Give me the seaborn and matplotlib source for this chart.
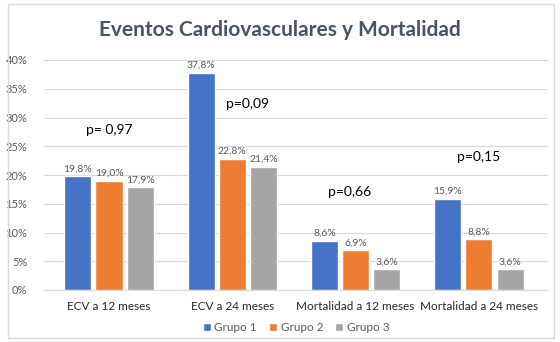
import matplotlib
matplotlib.use("Agg")
import matplotlib.pyplot as plt
import pandas as pd
import seaborn as sns
from matplotlib.patches import Rectangle

categories = ["ECV a 12 meses", "ECV a 24 meses",
              "Mortalidad a 12 meses", "Mortalidad a 24 meses"]
grupos = ["Grupo 1", "Grupo 2", "Grupo 3"]
grupo1 = [19.8, 37.8, 8.6, 15.9]
grupo2 = [19.0, 22.8, 6.9, 8.8]
grupo3 = [17.9, 21.4, 3.6, 3.6]
p_labels = ["p= 0,97", "p=0,09", "p=0,66", "p=0,15"]
p_pos = [(0.0, 27.8), (1.12, 32.3), (1.95, 17.0), (3.0, 23.1)]

df = pd.DataFrame({
    "cat": categories * 3,
    "grupo": [g for g in grupos for _ in categories],
    "val": grupo1 + grupo2 + grupo3,
})

sns.set_style("white")
plt.rcParams["font.family"] = ["Lato", "DejaVu Sans"]

colors = ["#4472C4", "#ED7D31", "#A5A5A5"]

fig = plt.figure(figsize=(5.6, 3.42), dpi=100)
fig.patches.append(Rectangle((8 / 560, 4 / 342), 546 / 560, 334 / 342,
                             transform=fig.transFigure, fill=False,
                             edgecolor="#D9D9D9", linewidth=1))
ax = fig.add_axes([44 / 560, 1 - 290 / 342, 504 / 560, 230 / 342])

sns.barplot(data=df, x="cat", y="val", hue="grupo", palette=colors,
            saturation=1, width=0.76, gap=0.135, ax=ax, legend=True)

for cont in ax.containers:
    ax.bar_label(cont, labels=[f"{v:.1f}%".replace(".", ",") for v in cont.datavalues],
                 padding=2, fontsize=7.5, color="#595959")

for txt, (x, y) in zip(p_labels, p_pos):
    ax.text(x, y, txt, ha="center", va="center", fontsize=10, color="black")

ax.set_xlim(-0.527, 3.56)
ax.set_ylim(0, 40)
ax.set_yticks(range(0, 41, 5))
ax.set_yticklabels([f"{v}%" for v in range(0, 41, 5)], fontsize=8, color="#595959")
ax.tick_params(axis="x", labelsize=8.5, colors="#262626", length=0, pad=8)
ax.tick_params(axis="y", length=0, pad=12)
ax.yaxis.grid(True, color="#D9D9D9", linewidth=0.8)
ax.set_axisbelow(True)
for s in ["left", "right", "top"]:
    ax.spines[s].set_visible(False)
ax.spines["bottom"].set_color("#D9D9D9")
ax.set_xlabel("")
ax.set_ylabel("")

ax.legend(loc="upper center", bbox_to_anchor=(0.5, -0.095), ncol=3, frameon=False,
          fontsize=8.5, handlelength=0.7, handleheight=0.7, handletextpad=0.3,
          columnspacing=1.0, labelcolor="#595959")

fig.text(0.5, 1 - 30 / 342, "Eventos Cardiovasculares y Mortalidad", ha="center",
         va="center", fontsize=15, fontweight="bold", color="#44546A")

fig.savefig("out.png", dpi=100)
